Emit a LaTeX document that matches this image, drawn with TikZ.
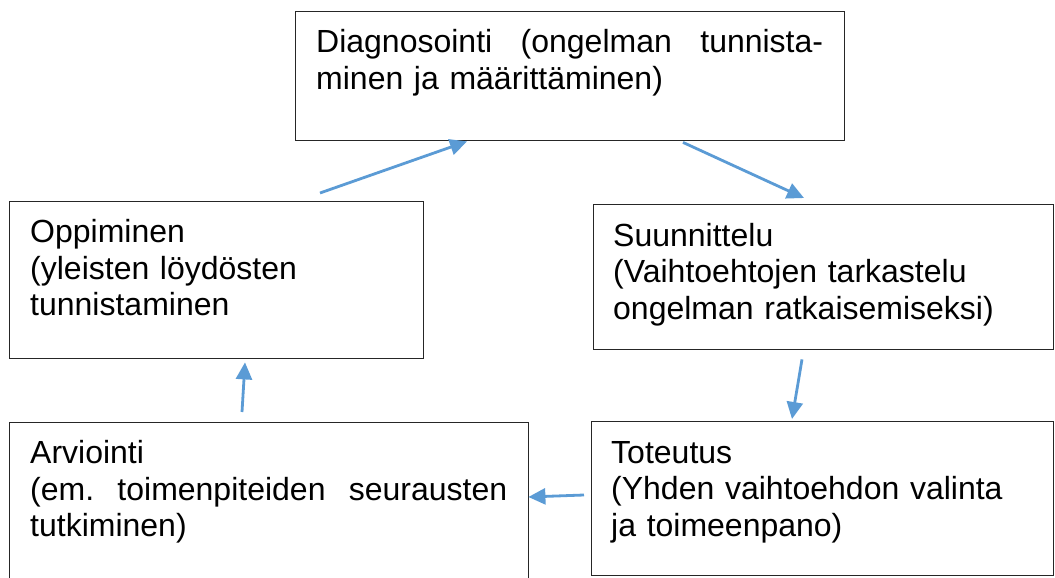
\documentclass[tikz,border=0pt]{standalone}
\usepackage{fontspec}
\setmainfont{Liberation Sans}
\usetikzlibrary{arrows.meta,calc}
\definecolor{arrowblue}{HTML}{5B9BD5}
\tikzset{
  stage/.style={draw=black!85, line width=1.4pt, inner sep=0pt, anchor=north west},
  stagetext/.style={inner sep=0pt, anchor=base west, align=left,
    font=\fontsize{32}{36.5}\selectfont},
  flow/.style={draw=arrowblue, line width=2.8pt,
    -{Triangle[length=17pt,width=16pt]}},
}
\begin{document}
\begin{tikzpicture}[x=1pt,y=-1pt]
  \clip (0,0) rectangle (1055,578);
  % stage boxes
  \node[stage, minimum width=549pt, minimum height=129pt] (diag) at (295,11) {};
  \node[stage, minimum width=414pt, minimum height=157pt] (opp)  at (9,201) {};
  \node[stage, minimum width=460pt, minimum height=145pt] (suun) at (593,204) {};
  \node[stage, minimum width=519pt, minimum height=180pt] (arv)  at (9,422) {};
  \node[stage, minimum width=462pt, minimum height=154pt] (tot)  at (591,421) {};
  % stage texts
  \node[stagetext, text width=507pt] (diagtxt) at ($(diag.north west)+(21,42)$)
    {\makebox[507pt][l]{Diagnosointi\hfill(ongelman\hfill tunnista-}\\minen ja määrittäminen)};
  \node[stagetext, text width=380pt] (opptxt) at ($(opp.north west)+(21,41.5)$)
    {Oppiminen\\(yleisten löydösten\\tunnistaminen};
  \node[stagetext, text width=425pt] (suuntxt) at ($(suun.north west)+(20,42)$)
    {Suunnittelu\\(Vaihtoehtojen tarkastelu\\ongelman ratkaisemiseksi)};
  \node[stagetext, text width=477pt] (arvtxt) at ($(arv.north west)+(21,41.5)$)
    {Arviointi\\\makebox[477pt][l]{(em.\hfill toimenpiteiden\hfill seurausten}\\tutkiminen)};
  \node[stagetext, text width=425pt] (tottxt) at ($(tot.north west)+(20,42)$)
    {Toteutus\\(Yhden vaihtoehdon valinta\\ja toimeenpano)};
  % cycle arrows
  \draw[flow] ($(opp.north west)+(311,-8)$) -- ($(diag.south west)+(172,0)$);
  \draw[flow] ($(diag.south west)+(388,1)$) -- ($(suun.north west)+(211,-6)$);
  \draw[flow] ($(suun.south west)+(209,9)$) -- ($(tot.north west)+(201,-2)$);
  \draw[flow] ($(tot.north west)+(-7,74)$) -- ($(arv.north east)+(-1,75)$);
  \draw[flow] ($(arv.north west)+(233,-10)$) -- ($(opp.south west)+(236,3)$);
\end{tikzpicture}
\end{document}
